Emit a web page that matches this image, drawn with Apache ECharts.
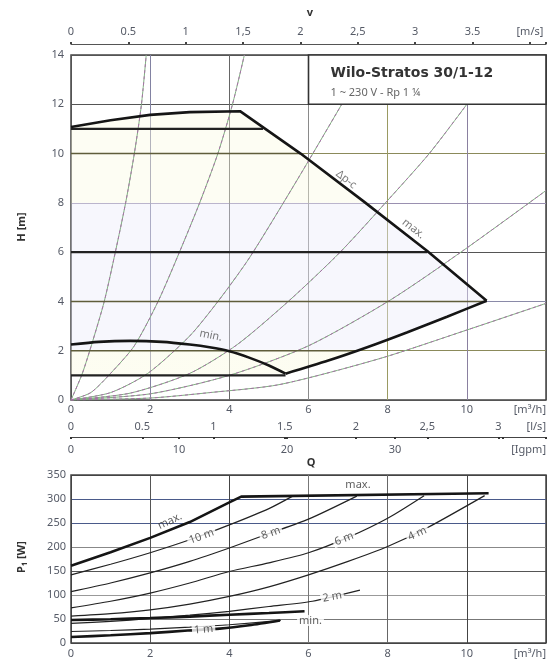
<!DOCTYPE html>
<html><head><meta charset="utf-8">
<script src="https://cdn.jsdelivr.net/npm/echarts@6/dist/echarts.min.js"></script>
<style>html,body{margin:0;padding:0;background:#fff}#c{width:549px;height:663px}</style>
</head><body><div id="c"></div><pre id="err" style="position:absolute;top:0;left:0;font-size:9px;white-space:pre-wrap;width:540px;margin:0"></pre>
<script>
const qTickLabels    = ['0','2','4','6','8','10','[m³/h]'];
const velTickLabels  = ['0','0.5','1','1,5','2','2,5','3','3.5','[m/s]'];
const lsTickLabels   = ['0','0.5','1','1.5','2','2,5','3','[l/s]'];
const igpmTickLabels = ['0','10','20','30','','[Igpm]'];
const hTickLabels    = ['0','2','4','6','8','10','12','14'];
const pTickLabels    = ['0','50','100','150','200','250','300','350'];

const qMax = 12;
const velMax = 4.14;
const lsMax = qMax / 3.6;
const igpmMax = qMax * 3.666;

const maxCurve   = [[0,11.08],[1,11.35],[2,11.57],[3,11.68],[4.27,11.72],[5.8,10.0],[7.4,8.05],[9.0,6.05],[10.5,4.03]];
const minCurve   = [[0,2.25],[0.7,2.36],[1.5,2.4],[2.3,2.36],[3,2.25],[3.5,2.14],[4,1.98],[4.5,1.72],[5,1.4],[5.42,1.07]];
const limitCurve = [[5.42,1.07],[6.5,1.6],[7.5,2.15],[8.5,2.75],[9.5,3.38],[10.5,4.03]];
const dpcLevels  = [11, 10, 6, 4, 2, 1];
const dpcEnds    = [4.85, 5.8, 9.0, 10.5, 7.2, 5.42];
const sys1 = [[0,0],[0.28,1.05],[0.55,2.4],[0.84,4.0],[1.12,6.0],[1.38,8.0],[1.6,10.0],[1.78,12.0],[1.9,14.0]];
const sys2 = [[0,0],[0.5,0.3],[1.0,1.08],[1.6,2.2],[2.2,4.0],[2.74,6.0],[3.25,8.0],[3.71,10.0],[4.08,12.0],[4.38,14.0]];
const sys3 = [[0,0],[1.0,0.3],[1.94,1.08],[3.0,2.6],[3.76,4.1],[4.52,5.8],[5.74,9.0],[6.84,12.0]];
const sys4 = [[0,0],[1.5,0.28],[3.0,1.08],[4.2,2.25],[5.53,4.06],[6.8,6.0],[8.0,8.1],[9.05,10.0],[10.0,12.0]];
const sys5 = [[0,0],[2,0.25],[4,1.0],[6,2.2],[8.07,4.06],[9.93,6.09],[12.0,8.5]];
const sys6 = [[0,0],[2,0.08],[3.5,0.3],[5.28,0.63],[7.82,1.69],[10,2.84],[12.0,3.92]];
const sysCurves = [sys1, sys2, sys3, sys4, sys5, sys6];
const legendBoxQ = [6, 12];
const legendBoxH = [12, 14];
const topNotes = [
  {t:'Δp-c', q:6.95, v:8.95, r:-38},
  {t:'max.', q:8.65, v:6.95, r:-38},
  {t:'min.', q:3.53, v:2.62, r:-12}
];

const pMax     = [[0,161],[1,189],[2,219],[3,252],[4,293],[4.3,305],[10.55,312]];
const p10m     = [[0,142],[1,164],[2,188],[3,215],[4,246],[5,280],[5.6,306]];
const p8m      = [[0,107],[1,125],[2,146],[3,170],[4,198],[5,228],[6,258],[7.22,306]];
const p6m      = [[0,73],[1,87],[2,104],[3,125],[4,149],[5,167],[6,188],[7,220],[8,260],[8.92,307]];
const p4m      = [[0,56],[1,61],[2,69],[3,81],[4,97],[5,117],[6,142],[7,170],[8,201],[9,240],[10.45,307]];
const p2m      = [[0,41],[1,45],[2,51],[3,58],[4,66],[5,76],[6.1,87],[7.3,110]];
const pMinHeavy= [[0,48],[1,49.5],[2,52],[3,55],[4,59],[5,62.5],[5.9,66]];
const pMinThin = [[0,24],[1,26],[2,29],[3,33],[4,38],[5.3,47]];
const p1m      = [[0,12.5],[1,16],[2,20.5],[2.95,26],[3.76,30],[4.5,37],[5.28,47]];
const bottomNotes = [
  {t:'max.', q:2.5,  v:254, r:25, bg:false},
  {t:'max.', q:7.25, v:329, r:0,  bg:false},
  {t:'10 m', q:3.3,  v:222, r:20, bg:true},
  {t:'8 m',  q:5.05, v:229, r:20, bg:true},
  {t:'6 m',  q:6.9,  v:217, r:22, bg:true},
  {t:'4 m',  q:8.75, v:228, r:24, bg:true},
  {t:'2 m',  q:6.6,  v:96,  r:10, bg:true},
  {t:'min.', q:6.05, v:47,  r:0,  bg:true},
  {t:'1 m',  q:3.35, v:28,  r:5,  bg:true}
];

const FONT = '"Noto Sans", "Open Sans", sans-serif';
const LBL = '#555a66';
const chart = echarts.init(document.getElementById('c'), null, {renderer:'canvas'});

const TOP_X = 0, TOP_Y = 0, BOT_X = 4, BOT_Y = 1;

const S = [];
function curve(data, xi, yi, color, width, z, dash, smooth) {
  S.push({type:'line', xAxisIndex:xi, yAxisIndex:yi, data, showSymbol:false, symbol:'none',
    smooth: smooth === undefined ? 0.25 : smooth, silent:true, z,
    lineStyle:{color, width, type: dash || 'solid'}});
}

const tintPolygon = maxCurve.concat(limitCurve.slice().reverse(), [[0, dpcLevels[5]]]);
S.push({type:'custom', xAxisIndex:TOP_X, yAxisIndex:TOP_Y, data:[[0,0]], z:1, silent:true,
  renderItem:function(params, api) {
    const pts = tintPolygon.map(p => api.coord(p));
    return {type:'polygon', shape:{points:pts}, style:{fill:new echarts.graphic.LinearGradient(0,0,0,1,[
      {offset:0, color:'rgba(250,250,225,0.4)'},{offset:0.345, color:'rgba(250,250,225,0.4)'},
      {offset:0.35, color:'rgba(235,235,250,0.4)'},{offset:0.9, color:'rgba(235,235,250,0.4)'},
      {offset:0.91, color:'rgba(250,250,225,0.45)'},{offset:1, color:'rgba(250,250,225,0.45)'}])}};
  }});

sysCurves.forEach(c => {
  curve(c, TOP_X, TOP_Y, '#7fb07f', 1, 3);
  curve(c, TOP_X, TOP_Y, '#a870a8', 1, 4, [3,3]);
});

const heavyLevels = [11, 6, 1];
dpcLevels.forEach((lvl, i) => {
  const heavy = heavyLevels.includes(lvl);
  curve([[0,lvl],[dpcEnds[i],lvl]], TOP_X, TOP_Y, heavy ? '#222' : '#5f5d3a', heavy ? 2.2 : 1.6, 5, null, false);
});

S.push({type:'custom', xAxisIndex:TOP_X, yAxisIndex:TOP_Y, data:[[0,0]], z:6, silent:true,
  renderItem:function(params, api) {
    const a = api.coord([legendBoxQ[0], legendBoxH[1]]), b = api.coord([legendBoxQ[1], legendBoxH[0]]);
    return {type:'group', children:[
      {type:'rect', shape:{x:a[0], y:a[1], width:b[0]-a[0], height:b[1]-a[1]}, style:{fill:'#fff', stroke:'#333', lineWidth:1.6}},
      {type:'text', x:a[0]+22, y:a[1]+18, style:{text:'Wilo-Stratos 30/1-12', font:'bold 14px "DejaVu Sans", sans-serif', fill:'#333', verticalAlign:'middle'}},
      {type:'text', x:a[0]+22, y:a[1]+38, style:{text:'1 ~ 230 V - Rp 1 ¼', font:'11px ' + FONT, fill:'#666', verticalAlign:'middle'}}
    ]};
  }});

curve(maxCurve, TOP_X, TOP_Y, '#151515', 2.6, 8, null, false);
curve(minCurve, TOP_X, TOP_Y, '#151515', 2.6, 8);
curve(limitCurve, TOP_X, TOP_Y, '#151515', 2.6, 8);

function notes(list, xi, yi, color) {
  S.push({type:'scatter', xAxisIndex:xi, yAxisIndex:yi, symbolSize:2, silent:true, z:10,
    itemStyle:{color:'rgba(0,0,0,0)'},
    data:list.map(n => ({value:[n.q, n.v], label:{show:true, formatter:n.t, rotate:n.r,
      backgroundColor: n.bg ? '#fff' : 'transparent', padding: n.bg ? [0,2] : 0}})),
    label:{show:true, position:'inside', color, fontSize:11, fontFamily:FONT}});
}
notes(topNotes, TOP_X, TOP_Y, '#555');

curve(pMax, BOT_X, BOT_Y, '#151515', 2.6, 8, null, false);
[p10m, p8m, p6m, p4m, p2m, pMinThin].forEach(c => curve(c, BOT_X, BOT_Y, '#222', 1.2, 6));
curve(pMinHeavy, BOT_X, BOT_Y, '#151515', 2.6, 7);
curve(p1m, BOT_X, BOT_Y, '#151515', 2.6, 7);
notes(bottomNotes, BOT_X, BOT_Y, '#333');

const labelStyle = {color:LBL, fontSize:11, fontFamily:FONT};
const option = {
  animation:false,
  backgroundColor:'#fff',
  grid:[
    {left:71, top:55, width:475, height:345, show:true, borderColor:'#444', borderWidth:1.5},
    {left:71, top:475, width:475, height:168, show:true, borderColor:'#444', borderWidth:1.5}
  ],
  xAxis:[
    {type:'value', gridIndex:0, min:0, max:qMax, interval:2, position:'bottom',
      axisLine:{show:false}, axisTick:{show:false},
      axisLabel:Object.assign({margin:4, formatter:(v,i)=>qTickLabels[i], alignMaxLabel:'right'}, labelStyle),
      splitLine:{show:true, lineStyle:{width:1, color:['#555','#8282a2','#666','#8a8a8a','#9a9a62','#8a80a0','#555']}}},
    {type:'value', gridIndex:0, min:0, max:velMax, interval:0.5, position:'top', offset:11,
      axisLine:{show:true, lineStyle:{color:'#555', width:1.2}}, axisTick:{show:true, length:2, lineStyle:{color:'#444', width:2}},
      axisLabel:Object.assign({margin:7, formatter:(v,i)=>velTickLabels[i], alignMaxLabel:'right'}, labelStyle),
      splitLine:{show:false}},
    {type:'value', gridIndex:0, min:0, max:lsMax, interval:0.5, position:'bottom', offset:37,
      axisLine:{show:true, lineStyle:{color:'#444', width:1.2}}, axisTick:{show:true, length:2, lineStyle:{color:'#333', width:2}},
      axisLabel:Object.assign({margin:5, inside:true, formatter:(v,i)=>lsTickLabels[i], alignMaxLabel:'right'}, labelStyle),
      splitLine:{show:false}},
    {type:'value', gridIndex:0, min:0, max:igpmMax, interval:10, position:'bottom', offset:37,
      axisLine:{show:false}, axisTick:{show:true, length:2, lineStyle:{color:'#333', width:2}},
      axisLabel:Object.assign({margin:7, formatter:(v,i)=>igpmTickLabels[i], alignMaxLabel:'right'}, labelStyle),
      splitLine:{show:false}},
    {type:'value', gridIndex:1, min:0, max:qMax, interval:2, position:'bottom',
      axisLine:{show:false}, axisTick:{show:false},
      axisLabel:Object.assign({margin:5, formatter:(v,i)=>qTickLabels[i], alignMaxLabel:'right'}, labelStyle),
      splitLine:{show:true, lineStyle:{width:1, color:['#444','#555','#444','#777','#666','#444','#444']}}}
  ],
  yAxis:[
    {type:'value', gridIndex:0, min:0, max:14, interval:2,
      axisLine:{show:false}, axisTick:{show:false},
      axisLabel:Object.assign({margin:7, formatter:(v,i)=>hTickLabels[i]}, labelStyle),
      splitLine:{show:true, lineStyle:{width:1, color:['#555','#8b8a5a','#8a8aa8','#555','#9a90b0','#8b8a5a','#555','#555']}}},
    {type:'value', gridIndex:1, min:0, max:350, interval:50,
      axisLine:{show:false}, axisTick:{show:false},
      axisLabel:Object.assign({margin:5, formatter:(v,i)=>pTickLabels[i]}, labelStyle),
      splitLine:{show:true, lineStyle:{width:1, color:['#444','#777','#999','#555','#888','#4a5a8a','#4a5a8a','#444']}}}
  ],
  graphic:[
    {type:'text', x:310, y:13, style:{text:'v', font:'bold 11px ' + FONT, fill:'#333', align:'center', verticalAlign:'middle'}},
    {type:'text', x:311, y:463, style:{text:'Q', font:'bold 11px ' + FONT, fill:'#333', align:'center', verticalAlign:'middle'}},
    {type:'text', x:22, y:227, rotation:Math.PI/2, style:{text:'H [m]', font:'bold 11px ' + FONT, fill:'#333', align:'center', verticalAlign:'middle'}},
    {type:'text', x:22, y:557, rotation:Math.PI/2, style:{text:'P₁ [W]', font:'bold 11px ' + FONT, fill:'#333', align:'center', verticalAlign:'middle'}}
  ],
  series:S
};
try { chart.setOption(option); }
catch(e) { document.getElementById('err').textContent = e.message + '\n' + e.stack; }
</script>
</body></html>
